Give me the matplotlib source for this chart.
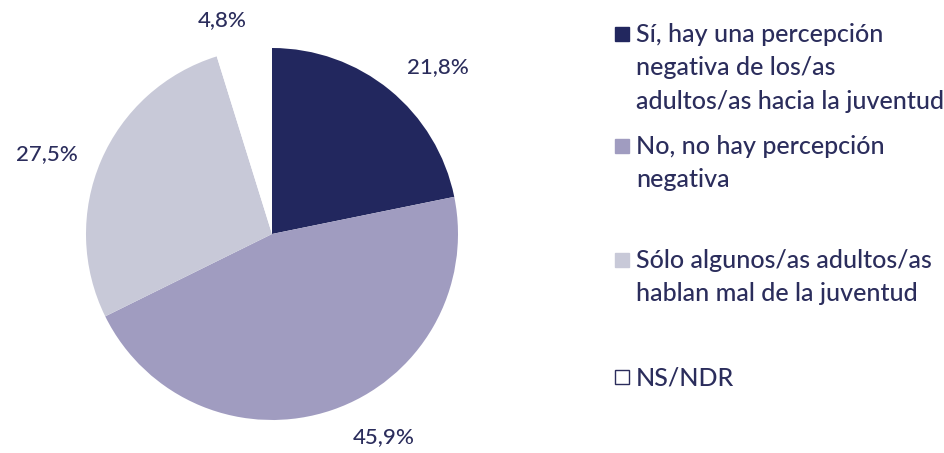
import matplotlib.pyplot as plt
from matplotlib.patches import Rectangle

categories = [
    "Sí, hay una percepción\nnegativa de los/as\nadultos/as hacia la juventud",
    "No, no hay percepción\nnegativa",
    "Sólo algunos/as adultos/as\nhablan mal de la juventud",
    "NS/NDR",
]
values = [21.8, 45.9, 27.5, 4.8]
value_labels = ["21,8%", "45,9%", "27,5%", "4,8%"]

colors = ["#22275e", "#a09cc0", "#c8c9d8", "#ffffff"]
text_color = "#2b2d5c"
# label positions in pie data units (layout only)
label_pos = [(0.89, 0.90), (0.60, -1.09), (-1.21, 0.43), (-0.27, 1.15)]

plt.rcParams['font.family'] = ['Lato', 'DejaVu Sans']

W, H = 945, 453
fig = plt.figure(figsize=(W / 100, H / 100), dpi=100, facecolor='w')

cx, cy, r = 272, 234, 186
ax = fig.add_axes([(cx - r) / W, (H - cy - r) / H, 2 * r / W, 2 * r / H])
ax.pie(values, colors=colors, startangle=90, counterclock=False, radius=1,
       wedgeprops=dict(linewidth=0))
ax.set_xlim(-1, 1)
ax.set_ylim(-1, 1)
ax.set_aspect('equal')
ax.axis('off')

for (x, y), lab in zip(label_pos, value_labels):
    ax.text(x, y, lab, ha='center', va='center', fontsize=16, color=text_color,
            fontweight='medium', clip_on=False)

# legend drawn by hand; item_mid = centre of first line in pixels from top
item_mid = [34, 146, 260, 377]
sq = 14
for mid, lab, col in zip(item_mid, categories, colors):
    fig.patches.append(Rectangle((615 / W, (H - mid - sq / 2) / H), sq / W, sq / H,
                                 transform=fig.transFigure, facecolor=col,
                                 edgecolor=text_color if col == "#ffffff" else col,
                                 linewidth=1))
    fig.text(636 / W, (H - mid + 11) / H, lab, ha='left', va='top', fontsize=18,
             color=text_color, fontweight='medium', linespacing=1.55)

plt.savefig("out.png", dpi=100, facecolor='w')
